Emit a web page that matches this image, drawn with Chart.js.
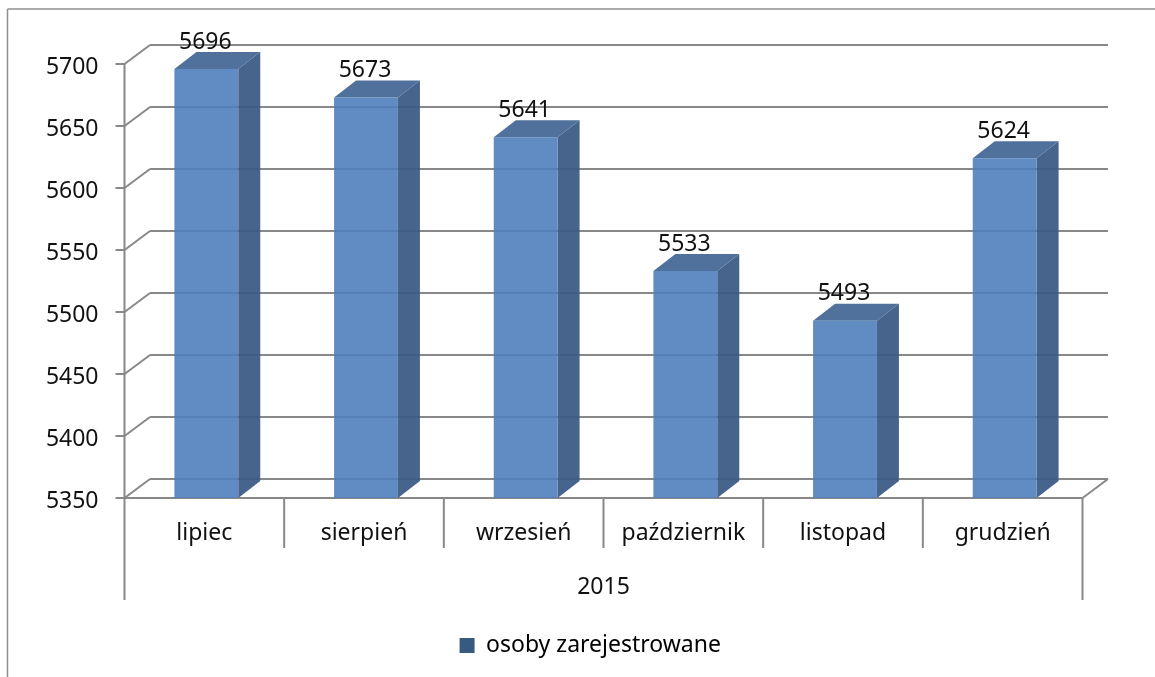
<!DOCTYPE html>
<html>
<head>
<meta charset="utf-8">
<style>
  html, body { margin: 0; padding: 0; background: #fff; }
  #wrap { width: 1155px; height: 677px; }
</style>
<script src="https://cdn.jsdelivr.net/npm/chart.js@4/dist/chart.umd.min.js"></script>
</head>
<body>
<div id="wrap"><canvas id="chart"></canvas></div>
<script>
const months = ["lipiec", "sierpień", "wrzesień", "październik", "listopad", "grudzień"];
const registered = [5696, 5673, 5641, 5533, 5493, 5624];
const yearLabel = "2015";
const seriesName = "osoby zarejestrowane";

const gridColor = "#888888";
const textColor = "#111111";
const fontName = "'Noto Sans', sans-serif";

// fake 3d, back wall and bar depth in pixels
const wallDx = 25.5, wallDy = 19;
const barDx = 22, barDy = 17;

function line(ctx, x1, y1, x2, y2) {
  ctx.beginPath();
  ctx.moveTo(x1, y1);
  ctx.lineTo(x2, y2);
  ctx.stroke();
}

function face(ctx, pts, color) {
  ctx.fillStyle = color;
  ctx.beginPath();
  pts.forEach((p, i) => i ? ctx.lineTo(p[0], p[1]) : ctx.moveTo(p[0], p[1]));
  ctx.closePath();
  ctx.fill();
}

const fake3d = {
  id: "fake3d",
  afterLayout(chart) {
    // legend is centred under the whole frame, not under the plot
    chart.legend.left += 49;
    chart.legend.right += 49;
  },
  afterDatasetsUpdate(chart) {
    // bars stand a bit inside the floor so they sit right of the band centre
    chart.getDatasetMeta(0).data.forEach(bar => { bar.x += 2; });
  },
  beforeDraw(chart) {
    const ctx = chart.ctx;
    ctx.save();
    ctx.fillStyle = "#fff";
    ctx.fillRect(0, 0, chart.width, chart.height);
    // outer frame, only top and left are in the picture
    ctx.strokeStyle = "#8f8f8f";
    ctx.lineWidth = 1.5;
    line(ctx, 7.5, chart.height, 7.5, 9);
    line(ctx, 7.5, 9, chart.width, 9);
    ctx.restore();
  },
  beforeDatasetsDraw(chart) {
    const ctx = chart.ctx, y = chart.scales.y, x = chart.scales.x;
    const a = chart.chartArea;
    ctx.save();
    ctx.strokeStyle = gridColor;
    ctx.lineWidth = 2;
    y.ticks.forEach(t => {
      const py = y.getPixelForValue(t.value);
      line(ctx, a.left, py, a.left + wallDx, py - wallDy);
      line(ctx, a.left + wallDx, py - wallDy, a.right + wallDx, py - wallDy);
    });
    line(ctx, a.right, a.bottom, a.right + wallDx, a.bottom - wallDy);
    // axis lines and the two level category separators
    line(ctx, a.left, a.bottom, a.right, a.bottom);
    line(ctx, a.left, a.top, a.left, a.bottom + 102);
    line(ctx, a.right, a.bottom, a.right, a.bottom + 102);
    for (let i = 1; i < months.length; i++) {
      const px = (x.getPixelForValue(i - 1) + x.getPixelForValue(i)) / 2;
      line(ctx, px, a.bottom, px, a.bottom + 50);
    }
    // side and top of each bar, the grid shows through them
    chart.getDatasetMeta(0).data.forEach(bar => {
      const w = bar.width / 2;
      const l = bar.x - w, r = bar.x + w;
      face(ctx, [[r, bar.y], [r + barDx, bar.y - barDy], [r + barDx, a.bottom - barDy], [r, a.bottom]], "rgba(59,91,133,0.94)");
      face(ctx, [[l, bar.y], [l + barDx, bar.y - barDy], [r + barDx, bar.y - barDy], [r, bar.y]], "rgba(72,107,152,0.96)");
    });
    ctx.restore();
  },
  afterDatasetsDraw(chart) {
    const ctx = chart.ctx;
    ctx.save();
    ctx.fillStyle = textColor;
    ctx.font = "23px " + fontName;
    ctx.textAlign = "center";
    ctx.textBaseline = "middle";
    chart.getDatasetMeta(0).data.forEach((bar, i) => {
      ctx.fillText(registered[i], bar.x - 1, bar.y - 27);
    });
    ctx.restore();
  }
};

new Chart("chart", {
  type: "bar",
  data: {
    labels: months,
    datasets: [{
      label: seriesName,
      data: registered,
      backgroundColor: "rgba(79,128,188,0.9)",
      barPercentage: 0.4,
      categoryPercentage: 1
    }]
  },
  options: {
    responsive: true,
    maintainAspectRatio: false,
    animation: false,
    layout: { padding: { top: 64, bottom: 10, right: 72.5 } },
    plugins: {
      tooltip: { enabled: false },
      legend: {
        position: "bottom",
        labels: {
          color: textColor,
          font: { family: fontName, size: 23 },
          boxWidth: 15,
          boxHeight: 15,
          padding: 6,
          generateLabels: chart => [{
            text: seriesName,
            fillStyle: "#375a80",
            strokeStyle: "#375a80",
            lineWidth: 0,
            datasetIndex: 0
          }]
        }
      }
    },
    scales: {
      x: {
        afterFit(s) { s.height = 130; },
        grid: { display: false, drawTicks: false },
        border: { display: false },
        ticks: { color: textColor, padding: 22, maxRotation: 0, font: { family: fontName, size: 23 } },
        title: {
          display: true,
          text: yearLabel,
          color: textColor,
          font: { family: fontName, size: 23 },
          padding: { top: 0, bottom: 27 }
        }
      },
      y: {
        min: 5350,
        max: 5700,
        afterFit(s) { s.width = 124.5; },
        grid: { drawOnChartArea: false, color: gridColor, lineWidth: 2, tickLength: 9 },
        border: { display: false },
        ticks: {
          stepSize: 50,
          color: textColor,
          padding: 17,
          labelOffset: 3,
          font: { family: fontName, size: 23 },
          callback: v => String(v)
        }
      }
    }
  },
  plugins: [fake3d]
});
</script>
</body>
</html>
